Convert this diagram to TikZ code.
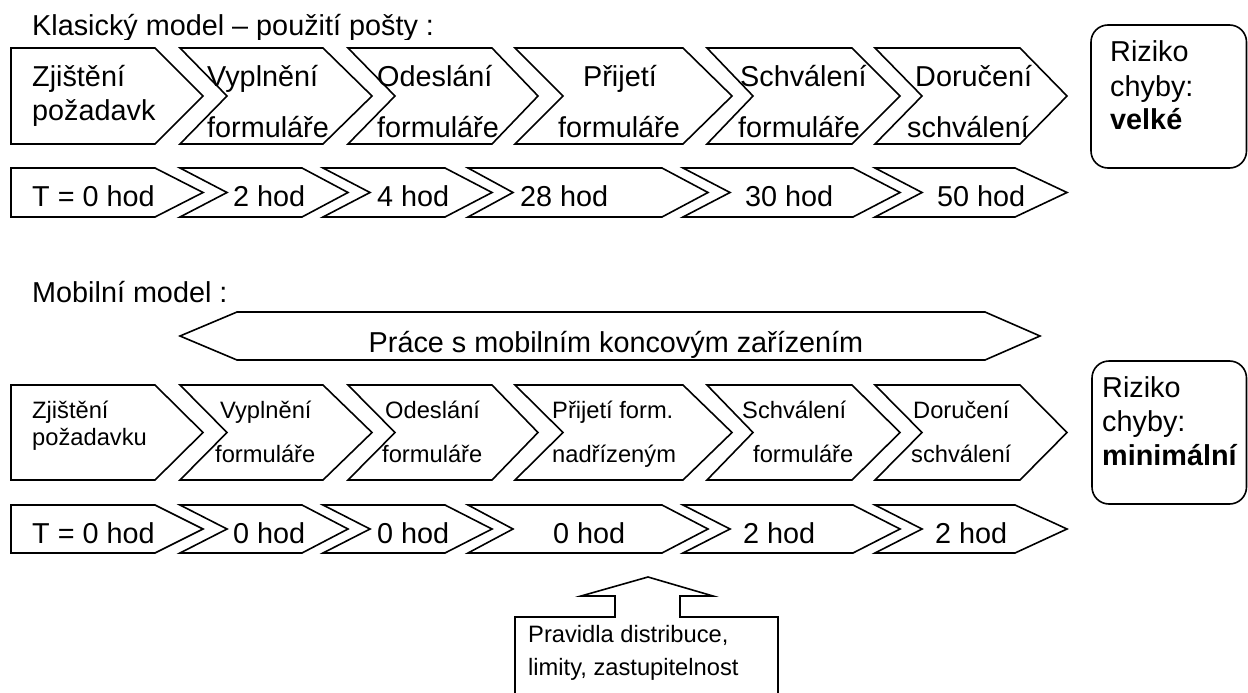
\documentclass[tikz,border=0pt]{standalone}
\usepackage{fontspec}
\setmainfont{Liberation Sans}

% step of a process chain: notched chevron
% #1 left x, #2 right corner x, #3 tip x, #4 notch x, #5 top y, #6 bottom y
\newcommand\chevbox[6]{%
  \draw[outline] (#1,#5) -- (#2,#5) -- (#3,{(#5+#6)/2}) -- (#2,#6) -- (#1,#6)
    -- (#4,{(#5+#6)/2}) -- cycle;}
% first step of a chain: pentagon without notch
% #1 left x, #2 right corner x, #3 tip x, #4 top y, #5 bottom y
\newcommand\headbox[5]{%
  \draw[outline] (#1,#4) -- (#2,#4) -- (#3,{(#4+#5)/2}) -- (#2,#5) -- (#1,#5) -- cycle;}

\begin{document}
\begin{tikzpicture}[x=1pt,y=-1pt,
  outline/.style={draw=black,line width=1.6pt,line join=miter,fill=white},
  bigtxt/.style={font=\fontsize{28.8}{33}\selectfont,inner sep=0pt},
  smalltxt/.style={font=\fontsize{23.7}{27}\selectfont,inner sep=0pt},
  lbl/.style={anchor=base west},
  ctr/.style={anchor=base}]
\useasboundingbox (0,0) rectangle (1248,693);
\fill[white] (0,0) rectangle (1248,693);

% ---------- classic model ----------
\begin{scope}
  \clip (0,0) rectangle (1248,39.5);
  \node[bigtxt,lbl] (title1) at (32,36) {Klasický model – použití pošty :};
\end{scope}

\headbox{11}{155}{203}{48}{144}
\chevbox{180}{323}{372}{227}{48}{144}
\chevbox{348}{492}{538}{395}{48}{144}
\chevbox{515}{683}{732}{563}{48}{144}
\chevbox{707}{852}{900}{753}{48}{144}
\chevbox{875}{1020}{1067}{922}{48}{144}

\node[bigtxt,lbl] (a1a) at (32,87) {Zjištění};
\node[bigtxt,lbl] (a1b) at (32,120) {požadavk};
\node[bigtxt,lbl] (a2a) at (207,87) {Vyplnění};
\node[bigtxt,lbl] (a2b) at (207,137) {formuláře};
\node[bigtxt,lbl] (a3a) at (377,87) {Odeslání};
\node[bigtxt,lbl] (a3b) at (377,137) {formuláře};
\node[bigtxt,ctr] (a4a) at (620,87) {Přijetí};
\node[bigtxt,ctr] (a4b) at (619,137) {formuláře};
\node[bigtxt,lbl] (a5a) at (740,87) {Schválení};
\node[bigtxt,lbl] (a5b) at (738,137) {formuláře};
\node[bigtxt,lbl] (a6a) at (915,87) {Doručení};
\node[bigtxt,lbl] (a6b) at (907,137) {schválení};

\headbox{11}{155}{203}{168}{217}
\chevbox{180}{302}{348}{227}{168}{217}
\chevbox{323}{445}{492}{370}{168}{217}
\chevbox{468}{662}{708}{513}{168}{217}
\chevbox{683}{853}{900}{730}{168}{217}
\chevbox{875}{1015}{1067}{922}{168}{217}

\node[bigtxt,lbl] (b1) at (32,206) {T = 0 hod};
\node[bigtxt,lbl] (b2) at (233,206) {2 hod};
\node[bigtxt,lbl] (b3) at (377,206) {4 hod};
\node[bigtxt,lbl] (b4) at (520,206) {28 hod};
\node[bigtxt,lbl] (b5) at (745,206) {30 hod};
\node[bigtxt,lbl] (b6) at (937,206) {50 hod};

\draw[outline,rounded corners=17pt] (1091,25) rectangle (1246.5,168);
\node[bigtxt,lbl] (r1a) at (1110,62) {Riziko};
\node[bigtxt,lbl] (r1b) at (1110,96) {chyby:};
\node[bigtxt,lbl] (r1c) at (1110,129) {\textbf{velké}};

% ---------- mobile model ----------
\node[bigtxt,lbl] (title2) at (32,302) {Mobilní model :};

\draw[outline] (180,336) -- (237,312) -- (985,312) -- (1040,336) -- (985,360)
  -- (237,360) -- cycle;
\node[bigtxt,ctr] (work) at (616,352) {Práce s mobilním koncovým zařízením};

\headbox{11}{155}{203}{385}{480}
\chevbox{180}{323}{372}{227}{385}{480}
\chevbox{348}{492}{538}{395}{385}{480}
\chevbox{515}{683}{732}{563}{385}{480}
\chevbox{707}{852}{900}{753}{385}{480}
\chevbox{875}{1020}{1067}{922}{385}{480}

\node[smalltxt,lbl] (c1a) at (32,418) {Zjištění};
\node[smalltxt,lbl] (c1b) at (32,445) {požadavku};
\node[smalltxt,lbl] (c2a) at (220,418) {Vyplnění};
\node[smalltxt,lbl] (c2b) at (215,462) {formuláře};
\node[smalltxt,lbl] (c3a) at (385,418) {Odeslání};
\node[smalltxt,lbl] (c3b) at (382,462) {formuláře};
\node[smalltxt,lbl] (c4a) at (552,418) {Přijetí form.};
\node[smalltxt,lbl] (c4b) at (552,462) {nadřízeným};
\node[smalltxt,lbl] (c5a) at (742,418) {Schválení};
\node[smalltxt,lbl] (c5b) at (753,462) {formuláře};
\node[smalltxt,lbl] (c6a) at (913,418) {Doručení};
\node[smalltxt,lbl] (c6b) at (911,462) {schválení};

\headbox{11}{155}{203}{505}{553}
\chevbox{180}{302}{348}{227}{505}{553}
\chevbox{323}{445}{492}{370}{505}{553}
\chevbox{468}{662}{708}{513}{505}{553}
\chevbox{683}{853}{900}{730}{505}{553}
\chevbox{875}{1015}{1067}{922}{505}{553}

\node[bigtxt,lbl] (d1) at (32,543) {T = 0 hod};
\node[bigtxt,lbl] (d2) at (233,543) {0 hod};
\node[bigtxt,lbl] (d3) at (377,543) {0 hod};
\node[bigtxt,lbl] (d4) at (553,543) {0 hod};
\node[bigtxt,lbl] (d5) at (743,543) {2 hod};
\node[bigtxt,lbl] (d6) at (935,543) {2 hod};

\draw[outline,rounded corners=17pt] (1092,361) rectangle (1246.5,504);
\node[bigtxt,lbl] (r2a) at (1102,397) {Riziko};
\node[bigtxt,lbl] (r2b) at (1102,431) {chyby:};
\node[bigtxt,lbl] (r2c) at (1102,465) {\textbf{minimální}};

% up-arrow callout with the rules
\begin{scope}
  \clip (0,0) rectangle (1248,693);
  \draw[outline] (515,710) -- (515,617) -- (615,617) -- (615,596) -- (581,596)
    -- (648,577) -- (713,596) -- (680,596) -- (680,617) -- (778,617)
    -- (778,710) -- cycle;
\end{scope}
\node[smalltxt,lbl] (rules1) at (528,642) {Pravidla distribuce,};
\node[smalltxt,lbl] (rules2) at (528,675) {limity, zastupitelnost};
\end{tikzpicture}
\end{document}
